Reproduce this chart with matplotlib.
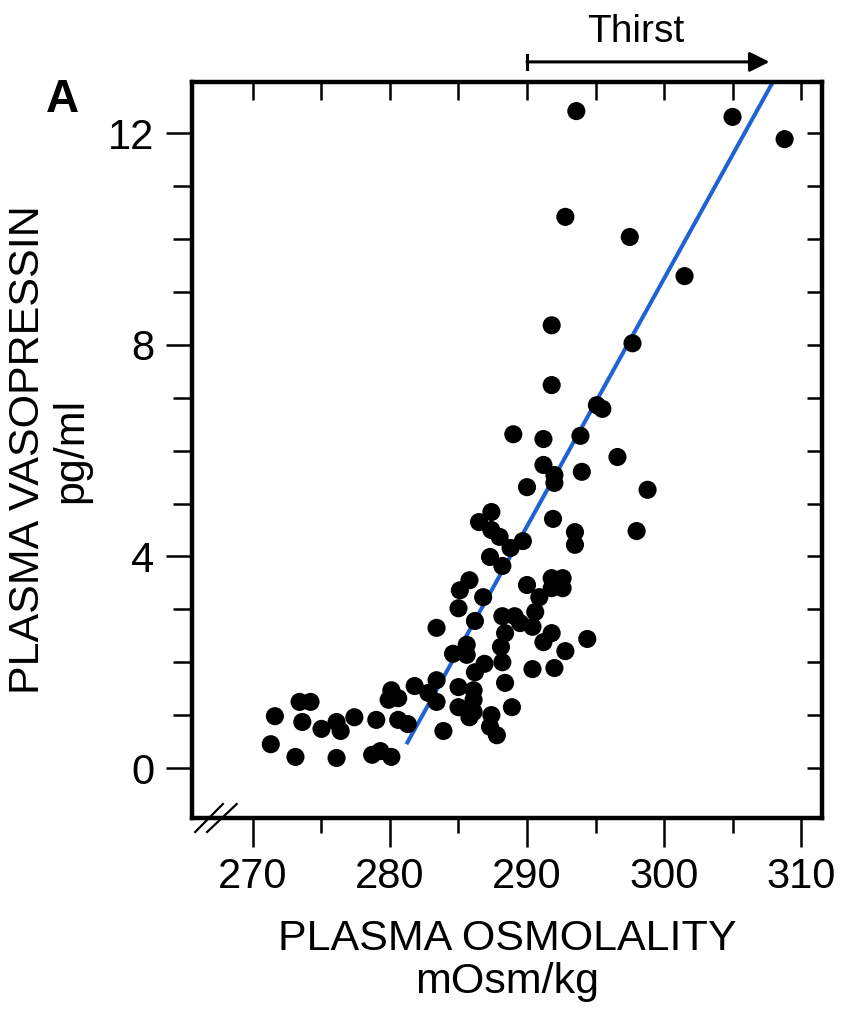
import matplotlib
matplotlib.use("Agg")
import matplotlib.pyplot as plt
from matplotlib.lines import Line2D

plt.rcParams['font.family'] = ['Liberation Sans', 'DejaVu Sans']

# ---- data ----
osmolality = [
    271.6, 271.3, 273.4, 274.2, 273.6, 273.1, 275.0, 276.1, 276.4, 276.1,
    277.4, 279.0, 278.7, 279.3, 280.1, 280.1, 279.9, 280.6, 280.6, 281.3,
    281.8, 282.8, 283.4, 283.4, 283.9, 283.4, 285.0, 284.6, 285.6, 285.6,
    286.2, 285.1, 285.8, 286.8, 285.0, 286.1, 286.1, 285.0, 286.1, 285.8,
    286.2, 286.9, 288.2, 287.4, 287.3, 287.8, 288.9, 288.4, 288.1, 288.4,
    288.2, 289.1, 289.5, 290.4, 290.6, 290.4, 292.0, 291.2, 291.8, 292.8,
    294.4, 290.0, 290.9, 291.8, 292.6, 291.8, 292.6, 287.4, 286.5, 287.4,
    288.0, 289.7, 288.8, 287.3, 288.2, 291.9, 293.5, 293.5, 290.0, 291.2,
    292.0, 292.0, 294.0, 289.0, 291.2, 293.9, 296.6, 298.8, 298.0, 295.1,
    295.5, 293.6, 305.0, 308.8, 292.8, 297.5, 301.5, 291.8, 297.7, 291.8,
]
vasopressin = [
    0.98, 0.45, 1.25, 1.25, 0.87, 0.21, 0.74, 0.87, 0.70, 0.19,
    0.96, 0.91, 0.25, 0.32, 0.21, 1.47, 1.29, 1.32, 0.91, 0.83,
    1.55, 1.42, 1.66, 1.25, 0.70, 2.65, 3.02, 2.16, 2.33, 2.14,
    2.78, 3.36, 3.55, 3.23, 1.53, 1.47, 1.29, 1.15, 1.06, 0.96,
    1.81, 1.97, 2.00, 1.00, 0.78, 0.62, 1.15, 1.61, 2.29, 2.55,
    2.87, 2.87, 2.74, 2.67, 2.95, 1.87, 1.89, 2.38, 2.55, 2.21,
    2.44, 3.46, 3.23, 3.40, 3.40, 3.59, 3.59, 4.84, 4.65, 4.50,
    4.37, 4.29, 4.16, 3.99, 3.82, 4.71, 4.46, 4.22, 5.31, 5.73,
    5.54, 5.39, 5.60, 6.31, 6.22, 6.28, 5.88, 5.26, 4.48, 6.86,
    6.79, 12.42, 12.31, 11.89, 10.42, 10.04, 9.30, 8.37, 8.03, 7.24,
]
fit_x = [281.2, 307.9]
fit_y = [0.45, 12.95]
thirst_x = [290.0, 307.7]
thirst_y = 13.35
x_major = [270, 280, 290, 300, 310]
x_minor = [275, 285, 295, 305]
y_major = [0, 4, 8, 12]
y_all = list(range(0, 13))
x_all = [270, 275, 280, 285, 290, 295, 300, 305, 310]

W, H = 842, 1013
fig = plt.figure(figsize=(W / 100, H / 100), dpi=100)
ax = fig.add_axes([192 / W, 1 - 818 / H, 630 / W, 736 / H])

ax.scatter(osmolality, vasopressin, s=170, c='black', edgecolors='none', zorder=3)
ax.plot(fit_x, fit_y, color='#1f62d4', lw=2.9, zorder=2, solid_capstyle='butt')

ax.set_xlim(265.55, 311.53)
ax.set_ylim(-0.945, 12.97)

for sp in ax.spines.values():
    sp.set_linewidth(3.2)

ax.set_xticks(x_major)
ax.set_xticks(x_minor, minor=True)
ax.set_yticks(y_major)
ax.set_yticks([v for v in y_all if v not in y_major], minor=True)
ax.tick_params(axis='x', which='major', direction='out', length=21, width=1.8,
               labelsize=30, pad=7)
ax.tick_params(axis='x', which='minor', direction='out', length=10.5, width=1.8)
ax.tick_params(axis='y', which='major', direction='out', length=19, width=1.8,
               labelsize=30, pad=8)
ax.tick_params(axis='y', which='minor', direction='out', length=14, width=1.8)

sec_x = ax.secondary_xaxis('top')
sec_x.set_xticks(x_all)
sec_x.tick_params(direction='in', length=13, width=1.8, labeltop=False)
sec_x.spines['top'].set_visible(False)
sec_y = ax.secondary_yaxis('right')
sec_y.set_yticks(y_all)
sec_y.tick_params(direction='in', length=11, width=1.8, labelright=False)
sec_y.spines['right'].set_visible(False)

ax.set_xlabel('PLASMA OSMOLALITY\nmOsm/kg', fontsize=31, linespacing=1.1, labelpad=16)
ax.set_ylabel('PLASMA VASOPRESSIN\npg/ml', fontsize=31, linespacing=1.1, labelpad=12)

# axis break marks
for x0, x1 in [(0.005, 0.049), (0.024, 0.071)]:
    ax.add_line(Line2D([x0, x1], [-0.019, 0.019], transform=ax.transAxes,
                       color='black', lw=1.6, clip_on=False))

# Thirst arrow
ax.annotate('', xy=(thirst_x[1], thirst_y), xytext=(thirst_x[0], thirst_y),
            arrowprops=dict(arrowstyle='-|>', color='black', lw=2.2,
                            mutation_scale=30, shrinkA=0, shrinkB=0),
            annotation_clip=False)
ax.plot([thirst_x[0], thirst_x[0]], [thirst_y - 0.13, thirst_y + 0.13],
        color='black', lw=2.2, clip_on=False)
ax.text(sum(thirst_x) / 2 - 0.9, thirst_y + 0.22, 'Thirst', fontsize=28,
        ha='center', va='bottom')

fig.text(62 / W, 1 - 100 / H, 'A', fontsize=33, fontweight='bold',
         ha='center', va='center')

fig.savefig('out.png', dpi=100)
